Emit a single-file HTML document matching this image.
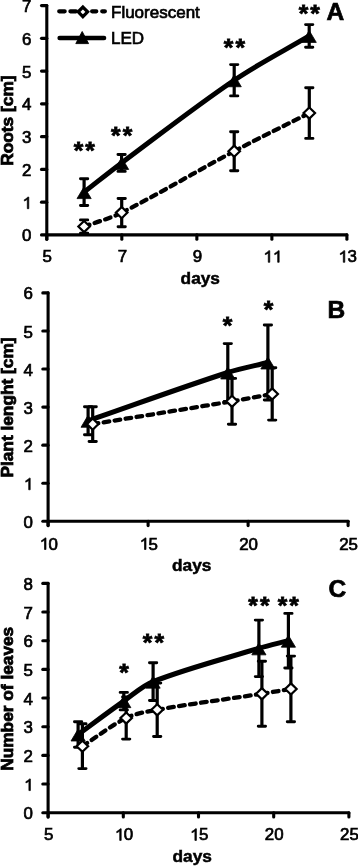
<!DOCTYPE html>
<html><head><meta charset="utf-8"><style>
html,body{margin:0;padding:0;background:#fff;}
body{width:358px;height:866px;overflow:hidden;font-family:"Liberation Sans",sans-serif;}
svg{display:block;will-change:transform;}
text{font-family:"Liberation Sans",sans-serif;fill:#000;}
</style></head><body>
<svg width="358" height="866" viewBox="0 0 358 866" font-family="Liberation Sans, sans-serif">
<path d="M46.80,5.60 V239.20" stroke="#000" stroke-width="3.10" fill="none" stroke-linecap="round"/>
<path d="M41.50,234.90 H46.80" stroke="#000" stroke-width="3.10" stroke-linecap="round"/>
<text x="22.00" y="241.45" font-size="16.90" font-weight="normal" text-anchor="start" stroke="#000" stroke-width="0.70">0</text>
<path d="M41.50,202.14 H46.80" stroke="#000" stroke-width="3.10" stroke-linecap="round"/>
<path d="M823,0 L643,0 L643,1140 C560,1065 430,985 283,925 L283,1090 C380,1135 490,1205 580,1290 C640,1345 685,1390 710,1409 L823,1409 Z" transform="translate(22.001,208.693) scale(0.00825,-0.00825)" fill="#000" stroke="#000" stroke-width="84.828"/>
<path d="M41.50,169.39 H46.80" stroke="#000" stroke-width="3.10" stroke-linecap="round"/>
<text x="22.00" y="175.94" font-size="16.90" font-weight="normal" text-anchor="start" stroke="#000" stroke-width="0.70">2</text>
<path d="M41.50,136.63 H46.80" stroke="#000" stroke-width="3.10" stroke-linecap="round"/>
<text x="22.00" y="143.18" font-size="16.90" font-weight="normal" text-anchor="start" stroke="#000" stroke-width="0.70">3</text>
<path d="M41.50,103.87 H46.80" stroke="#000" stroke-width="3.10" stroke-linecap="round"/>
<text x="22.00" y="110.42" font-size="16.90" font-weight="normal" text-anchor="start" stroke="#000" stroke-width="0.70">4</text>
<path d="M41.50,71.11 H46.80" stroke="#000" stroke-width="3.10" stroke-linecap="round"/>
<text x="22.00" y="77.66" font-size="16.90" font-weight="normal" text-anchor="start" stroke="#000" stroke-width="0.70">5</text>
<path d="M41.50,38.36 H46.80" stroke="#000" stroke-width="3.10" stroke-linecap="round"/>
<text x="22.00" y="44.91" font-size="16.90" font-weight="normal" text-anchor="start" stroke="#000" stroke-width="0.70">6</text>
<path d="M41.50,5.60 H46.80" stroke="#000" stroke-width="3.10" stroke-linecap="round"/>
<text x="22.00" y="12.15" font-size="16.90" font-weight="normal" text-anchor="start" stroke="#000" stroke-width="0.70">7</text>
<path d="M46.80,234.90 H346.90" stroke="#000" stroke-width="3.10" fill="none" stroke-linecap="round"/>
<path d="M46.80,234.90 V239.20" stroke="#000" stroke-width="3.10" stroke-linecap="round"/>
<text x="42.60" y="262.30" font-size="16.90" font-weight="normal" text-anchor="start" stroke="#000" stroke-width="0.70">5</text>
<path d="M121.82,234.90 V239.20" stroke="#000" stroke-width="3.10" stroke-linecap="round"/>
<text x="117.63" y="262.30" font-size="16.90" font-weight="normal" text-anchor="start" stroke="#000" stroke-width="0.70">7</text>
<path d="M196.85,234.90 V239.20" stroke="#000" stroke-width="3.10" stroke-linecap="round"/>
<text x="192.65" y="262.30" font-size="16.90" font-weight="normal" text-anchor="start" stroke="#000" stroke-width="0.70">9</text>
<path d="M271.88,234.90 V239.20" stroke="#000" stroke-width="3.10" stroke-linecap="round"/>
<path d="M823,0 L643,0 L643,1140 C560,1065 430,985 283,925 L283,1090 C380,1135 490,1205 580,1290 C640,1345 685,1390 710,1409 L823,1409 Z" transform="translate(262.976,262.300) scale(0.00825,-0.00825)" fill="#000" stroke="#000" stroke-width="84.828"/><path d="M823,0 L643,0 L643,1140 C560,1065 430,985 283,925 L283,1090 C380,1135 490,1205 580,1290 C640,1345 685,1390 710,1409 L823,1409 Z" transform="translate(272.375,262.300) scale(0.00825,-0.00825)" fill="#000" stroke="#000" stroke-width="84.828"/>
<path d="M346.90,234.90 V239.20" stroke="#000" stroke-width="3.10" stroke-linecap="round"/>
<path d="M823,0 L643,0 L643,1140 C560,1065 430,985 283,925 L283,1090 C380,1135 490,1205 580,1290 C640,1345 685,1390 710,1409 L823,1409 Z" transform="translate(338.001,262.300) scale(0.00825,-0.00825)" fill="#000" stroke="#000" stroke-width="84.828"/><text x="347.40" y="262.30" font-size="16.90" font-weight="normal" text-anchor="start" stroke="#000" stroke-width="0.70">3</text>
<text x="180.60" y="284.30" font-size="17.30" font-weight="bold" text-anchor="start" stroke="#000" stroke-width="0.50">days</text>
<text x="0" y="0" font-size="17.30" font-weight="bold" text-anchor="middle" stroke="#000" stroke-width="0.80" transform="translate(13.00,120.60) rotate(-90)">Roots [cm]</text>
<text x="326.60" y="19.50" font-size="24.50" font-weight="bold" text-anchor="start" stroke="#000" stroke-width="0.70">A</text>
<path d="M84.10,192.10 C96.60,182.38 108.91,172.41 121.60,162.95 C158.94,135.13 195.69,106.33 234.20,80.25 C258.22,63.98 284.20,50.68 309.20,35.90" stroke="#000" stroke-width="5.00" fill="none" stroke-linejoin="round" stroke-linecap="round"/>
<path d="M84.10,178.70 V205.50" stroke="#000" stroke-width="3.20" fill="none"/><path d="M80.45,178.70 H87.75 M80.45,205.50 H87.75" stroke="#000" stroke-width="2.90" fill="none" stroke-linecap="round"/>
<path d="M121.60,154.50 V171.40" stroke="#000" stroke-width="3.20" fill="none"/><path d="M117.95,154.50 H125.25 M117.95,171.40 H125.25" stroke="#000" stroke-width="2.90" fill="none" stroke-linecap="round"/>
<path d="M234.20,64.60 V95.90" stroke="#000" stroke-width="3.20" fill="none"/><path d="M230.55,64.60 H237.85 M230.55,95.90 H237.85" stroke="#000" stroke-width="2.90" fill="none" stroke-linecap="round"/>
<path d="M309.20,24.60 V47.20" stroke="#000" stroke-width="3.20" fill="none"/><path d="M305.55,24.60 H312.85 M305.55,47.20 H312.85" stroke="#000" stroke-width="2.90" fill="none" stroke-linecap="round"/>
<path d="M84.10,186.70 L91.20,198.60 L77.00,198.60 Z" fill="#000" stroke="#000" stroke-width="0.8" stroke-linejoin="round"/>
<path d="M121.60,157.55 L128.70,169.45 L114.50,169.45 Z" fill="#000" stroke="#000" stroke-width="0.8" stroke-linejoin="round"/>
<path d="M234.20,74.85 L241.30,86.75 L227.10,86.75 Z" fill="#000" stroke="#000" stroke-width="0.8" stroke-linejoin="round"/>
<path d="M309.20,30.50 L316.30,42.40 L302.10,42.40 Z" fill="#000" stroke="#000" stroke-width="0.8" stroke-linejoin="round"/>
<path d="M84.10,226.55 C96.63,221.91 109.78,218.61 121.70,212.62" stroke="#000" stroke-width="4.30" fill="none" stroke-dasharray="5.7 5.4" stroke-dashoffset="0.00" stroke-linecap="round"/>
<path d="M121.70,212.62 C159.81,193.49 196.47,171.23 234.20,151.20" stroke="#000" stroke-width="4.30" fill="none" stroke-dasharray="5.7 5.4" stroke-dashoffset="0.00" stroke-linecap="round"/>
<path d="M234.20,151.20 C259.00,138.04 284.27,125.77 309.30,113.05" stroke="#000" stroke-width="4.30" fill="none" stroke-dasharray="5.7 5.4" stroke-dashoffset="0.00" stroke-linecap="round"/>
<path d="M84.10,219.90 V233.20" stroke="#000" stroke-width="3.20" fill="none"/><path d="M80.45,219.90 H87.75 M80.45,233.20 H87.75" stroke="#000" stroke-width="2.90" fill="none" stroke-linecap="round"/>
<path d="M121.70,198.55 V226.70" stroke="#000" stroke-width="3.20" fill="none"/><path d="M118.05,198.55 H125.35 M118.05,226.70 H125.35" stroke="#000" stroke-width="2.90" fill="none" stroke-linecap="round"/>
<path d="M234.20,131.70 V170.70" stroke="#000" stroke-width="3.20" fill="none"/><path d="M230.55,131.70 H237.85 M230.55,170.70 H237.85" stroke="#000" stroke-width="2.90" fill="none" stroke-linecap="round"/>
<path d="M309.30,87.70 V138.40" stroke="#000" stroke-width="3.20" fill="none"/><path d="M305.65,87.70 H312.95 M305.65,138.40 H312.95" stroke="#000" stroke-width="2.90" fill="none" stroke-linecap="round"/>
<path d="M84.10,220.95 L89.85,226.55 L84.10,232.15 L78.35,226.55 Z" fill="#fff" stroke="#000" stroke-width="2.20" stroke-linejoin="miter" stroke-miterlimit="10"/>
<path d="M121.70,207.03 L127.45,212.62 L121.70,218.22 L115.95,212.62 Z" fill="#fff" stroke="#000" stroke-width="2.20" stroke-linejoin="miter" stroke-miterlimit="10"/>
<path d="M234.20,145.60 L239.95,151.20 L234.20,156.80 L228.45,151.20 Z" fill="#fff" stroke="#000" stroke-width="2.20" stroke-linejoin="miter" stroke-miterlimit="10"/>
<path d="M309.30,107.45 L315.05,113.05 L309.30,118.65 L303.55,113.05 Z" fill="#fff" stroke="#000" stroke-width="2.20" stroke-linejoin="miter" stroke-miterlimit="10"/>
<text x="73.76" y="158.95" font-size="24.50" font-weight="bold" text-anchor="start" stroke="#000" stroke-width="0.80">*</text>
<text x="85.36" y="158.95" font-size="24.50" font-weight="bold" text-anchor="start" stroke="#000" stroke-width="0.80">*</text>
<text x="111.06" y="143.50" font-size="24.50" font-weight="bold" text-anchor="start" stroke="#000" stroke-width="0.80">*</text>
<text x="122.66" y="143.50" font-size="24.50" font-weight="bold" text-anchor="start" stroke="#000" stroke-width="0.80">*</text>
<text x="223.81" y="55.50" font-size="24.50" font-weight="bold" text-anchor="start" stroke="#000" stroke-width="0.80">*</text>
<text x="235.41" y="55.50" font-size="24.50" font-weight="bold" text-anchor="start" stroke="#000" stroke-width="0.80">*</text>
<text x="298.66" y="21.75" font-size="24.50" font-weight="bold" text-anchor="start" stroke="#000" stroke-width="0.80">*</text>
<text x="310.26" y="21.75" font-size="24.50" font-weight="bold" text-anchor="start" stroke="#000" stroke-width="0.80">*</text>
<path d="M48.10,292.90 V525.60" stroke="#000" stroke-width="3.10" fill="none" stroke-linecap="round"/>
<path d="M42.80,521.30 H48.10" stroke="#000" stroke-width="3.10" stroke-linecap="round"/>
<text x="23.40" y="527.85" font-size="16.90" font-weight="normal" text-anchor="start" stroke="#000" stroke-width="0.70">0</text>
<path d="M42.80,483.23 H48.10" stroke="#000" stroke-width="3.10" stroke-linecap="round"/>
<path d="M823,0 L643,0 L643,1140 C560,1065 430,985 283,925 L283,1090 C380,1135 490,1205 580,1290 C640,1345 685,1390 710,1409 L823,1409 Z" transform="translate(23.401,489.783) scale(0.00825,-0.00825)" fill="#000" stroke="#000" stroke-width="84.828"/>
<path d="M42.80,445.17 H48.10" stroke="#000" stroke-width="3.10" stroke-linecap="round"/>
<text x="23.40" y="451.72" font-size="16.90" font-weight="normal" text-anchor="start" stroke="#000" stroke-width="0.70">2</text>
<path d="M42.80,407.10 H48.10" stroke="#000" stroke-width="3.10" stroke-linecap="round"/>
<text x="23.40" y="413.65" font-size="16.90" font-weight="normal" text-anchor="start" stroke="#000" stroke-width="0.70">3</text>
<path d="M42.80,369.03 H48.10" stroke="#000" stroke-width="3.10" stroke-linecap="round"/>
<text x="23.40" y="375.58" font-size="16.90" font-weight="normal" text-anchor="start" stroke="#000" stroke-width="0.70">4</text>
<path d="M42.80,330.97 H48.10" stroke="#000" stroke-width="3.10" stroke-linecap="round"/>
<text x="23.40" y="337.52" font-size="16.90" font-weight="normal" text-anchor="start" stroke="#000" stroke-width="0.70">5</text>
<path d="M42.80,292.90 H48.10" stroke="#000" stroke-width="3.10" stroke-linecap="round"/>
<text x="23.40" y="299.45" font-size="16.90" font-weight="normal" text-anchor="start" stroke="#000" stroke-width="0.70">6</text>
<path d="M48.10,521.30 H348.10" stroke="#000" stroke-width="3.10" fill="none" stroke-linecap="round"/>
<path d="M48.10,521.30 V525.60" stroke="#000" stroke-width="3.10" stroke-linecap="round"/>
<path d="M823,0 L643,0 L643,1140 C560,1065 430,985 283,925 L283,1090 C380,1135 490,1205 580,1290 C640,1345 685,1390 710,1409 L823,1409 Z" transform="translate(39.201,549.500) scale(0.00825,-0.00825)" fill="#000" stroke="#000" stroke-width="84.828"/><text x="48.60" y="549.50" font-size="16.90" font-weight="normal" text-anchor="start" stroke="#000" stroke-width="0.70">0</text>
<path d="M148.10,521.30 V525.60" stroke="#000" stroke-width="3.10" stroke-linecap="round"/>
<path d="M823,0 L643,0 L643,1140 C560,1065 430,985 283,925 L283,1090 C380,1135 490,1205 580,1290 C640,1345 685,1390 710,1409 L823,1409 Z" transform="translate(139.201,549.500) scale(0.00825,-0.00825)" fill="#000" stroke="#000" stroke-width="84.828"/><text x="148.60" y="549.50" font-size="16.90" font-weight="normal" text-anchor="start" stroke="#000" stroke-width="0.70">5</text>
<path d="M248.10,521.30 V525.60" stroke="#000" stroke-width="3.10" stroke-linecap="round"/>
<text x="239.20" y="549.50" font-size="16.90" font-weight="normal" text-anchor="start" stroke="#000" stroke-width="0.70">2</text><text x="248.60" y="549.50" font-size="16.90" font-weight="normal" text-anchor="start" stroke="#000" stroke-width="0.70">0</text>
<path d="M348.10,521.30 V525.60" stroke="#000" stroke-width="3.10" stroke-linecap="round"/>
<text x="339.20" y="549.50" font-size="16.90" font-weight="normal" text-anchor="start" stroke="#000" stroke-width="0.70">2</text><text x="348.60" y="549.50" font-size="16.90" font-weight="normal" text-anchor="start" stroke="#000" stroke-width="0.70">5</text>
<text x="172.00" y="571.40" font-size="17.30" font-weight="bold" text-anchor="start" stroke="#000" stroke-width="0.50">days</text>
<text x="0" y="0" font-size="17.30" font-weight="bold" text-anchor="middle" stroke="#000" stroke-width="0.80" transform="translate(13.00,407.50) rotate(-90)">Plant lenght [cm]</text>
<text x="327.50" y="317.60" font-size="24.50" font-weight="bold" text-anchor="start" stroke="#000" stroke-width="0.70">B</text>
<path d="M88.10,420.75 C134.67,404.67 180.96,387.67 227.80,372.50 C240.90,368.26 254.53,365.83 267.90,362.50" stroke="#000" stroke-width="5.00" fill="none" stroke-linejoin="round" stroke-linecap="round"/>
<path d="M88.10,406.70 V434.80" stroke="#000" stroke-width="3.20" fill="none"/><path d="M84.45,406.70 H91.75 M84.45,434.80 H91.75" stroke="#000" stroke-width="2.90" fill="none" stroke-linecap="round"/>
<path d="M227.80,343.60 V401.40" stroke="#000" stroke-width="3.20" fill="none"/><path d="M224.15,343.60 H231.45 M224.15,401.40 H231.45" stroke="#000" stroke-width="2.90" fill="none" stroke-linecap="round"/>
<path d="M267.90,325.00 V400.00" stroke="#000" stroke-width="3.20" fill="none"/><path d="M264.25,325.00 H271.55 M264.25,400.00 H271.55" stroke="#000" stroke-width="2.90" fill="none" stroke-linecap="round"/>
<path d="M88.10,415.35 L95.20,427.25 L81.00,427.25 Z" fill="#000" stroke="#000" stroke-width="0.8" stroke-linejoin="round"/>
<path d="M227.80,367.10 L234.90,379.00 L220.70,379.00 Z" fill="#000" stroke="#000" stroke-width="0.8" stroke-linejoin="round"/>
<path d="M267.90,357.10 L275.00,369.00 L260.80,369.00 Z" fill="#000" stroke="#000" stroke-width="0.8" stroke-linejoin="round"/>
<path d="M92.70,424.10 C139.13,416.50 185.60,409.09 232.00,401.30" stroke="#000" stroke-width="4.30" fill="none" stroke-dasharray="5.7 5.4" stroke-dashoffset="0.00" stroke-linecap="round"/>
<path d="M232.00,401.30 C245.43,399.04 258.80,396.40 272.20,393.95" stroke="#000" stroke-width="4.30" fill="none" stroke-dasharray="5.7 5.4" stroke-dashoffset="0.00" stroke-linecap="round"/>
<path d="M92.70,406.70 V441.50" stroke="#000" stroke-width="3.20" fill="none"/><path d="M89.05,406.70 H96.35 M89.05,441.50 H96.35" stroke="#000" stroke-width="2.90" fill="none" stroke-linecap="round"/>
<path d="M232.00,378.40 V424.20" stroke="#000" stroke-width="3.20" fill="none"/><path d="M228.35,378.40 H235.65 M228.35,424.20 H235.65" stroke="#000" stroke-width="2.90" fill="none" stroke-linecap="round"/>
<path d="M272.20,367.80 V420.10" stroke="#000" stroke-width="3.20" fill="none"/><path d="M268.55,367.80 H275.85 M268.55,420.10 H275.85" stroke="#000" stroke-width="2.90" fill="none" stroke-linecap="round"/>
<path d="M92.70,418.50 L98.45,424.10 L92.70,429.70 L86.95,424.10 Z" fill="#fff" stroke="#000" stroke-width="2.20" stroke-linejoin="miter" stroke-miterlimit="10"/>
<path d="M232.00,395.70 L237.75,401.30 L232.00,406.90 L226.25,401.30 Z" fill="#fff" stroke="#000" stroke-width="2.20" stroke-linejoin="miter" stroke-miterlimit="10"/>
<path d="M272.20,388.35 L277.95,393.95 L272.20,399.55 L266.45,393.95 Z" fill="#fff" stroke="#000" stroke-width="2.20" stroke-linejoin="miter" stroke-miterlimit="10"/>
<text x="222.86" y="333.60" font-size="24.50" font-weight="bold" text-anchor="start" stroke="#000" stroke-width="0.80">*</text>
<text x="263.66" y="318.30" font-size="24.50" font-weight="bold" text-anchor="start" stroke="#000" stroke-width="0.80">*</text>
<path d="M48.10,583.40 V817.00" stroke="#000" stroke-width="3.10" fill="none" stroke-linecap="round"/>
<path d="M42.80,812.70 H48.10" stroke="#000" stroke-width="3.10" stroke-linecap="round"/>
<text x="23.60" y="819.25" font-size="16.90" font-weight="normal" text-anchor="start" stroke="#000" stroke-width="0.70">0</text>
<path d="M42.80,784.04 H48.10" stroke="#000" stroke-width="3.10" stroke-linecap="round"/>
<path d="M823,0 L643,0 L643,1140 C560,1065 430,985 283,925 L283,1090 C380,1135 490,1205 580,1290 C640,1345 685,1390 710,1409 L823,1409 Z" transform="translate(23.601,790.587) scale(0.00825,-0.00825)" fill="#000" stroke="#000" stroke-width="84.828"/>
<path d="M42.80,755.38 H48.10" stroke="#000" stroke-width="3.10" stroke-linecap="round"/>
<text x="23.60" y="761.92" font-size="16.90" font-weight="normal" text-anchor="start" stroke="#000" stroke-width="0.70">2</text>
<path d="M42.80,726.71 H48.10" stroke="#000" stroke-width="3.10" stroke-linecap="round"/>
<text x="23.60" y="733.26" font-size="16.90" font-weight="normal" text-anchor="start" stroke="#000" stroke-width="0.70">3</text>
<path d="M42.80,698.05 H48.10" stroke="#000" stroke-width="3.10" stroke-linecap="round"/>
<text x="23.60" y="704.60" font-size="16.90" font-weight="normal" text-anchor="start" stroke="#000" stroke-width="0.70">4</text>
<path d="M42.80,669.39 H48.10" stroke="#000" stroke-width="3.10" stroke-linecap="round"/>
<text x="23.60" y="675.94" font-size="16.90" font-weight="normal" text-anchor="start" stroke="#000" stroke-width="0.70">5</text>
<path d="M42.80,640.73 H48.10" stroke="#000" stroke-width="3.10" stroke-linecap="round"/>
<text x="23.60" y="647.27" font-size="16.90" font-weight="normal" text-anchor="start" stroke="#000" stroke-width="0.70">6</text>
<path d="M42.80,612.06 H48.10" stroke="#000" stroke-width="3.10" stroke-linecap="round"/>
<text x="23.60" y="618.61" font-size="16.90" font-weight="normal" text-anchor="start" stroke="#000" stroke-width="0.70">7</text>
<path d="M42.80,583.40 H48.10" stroke="#000" stroke-width="3.10" stroke-linecap="round"/>
<text x="23.60" y="589.95" font-size="16.90" font-weight="normal" text-anchor="start" stroke="#000" stroke-width="0.70">8</text>
<path d="M48.10,812.70 H348.90" stroke="#000" stroke-width="3.10" fill="none" stroke-linecap="round"/>
<path d="M48.10,812.70 V817.00" stroke="#000" stroke-width="3.10" stroke-linecap="round"/>
<text x="43.90" y="840.40" font-size="16.90" font-weight="normal" text-anchor="start" stroke="#000" stroke-width="0.70">5</text>
<path d="M123.30,812.70 V817.00" stroke="#000" stroke-width="3.10" stroke-linecap="round"/>
<path d="M823,0 L643,0 L643,1140 C560,1065 430,985 283,925 L283,1090 C380,1135 490,1205 580,1290 C640,1345 685,1390 710,1409 L823,1409 Z" transform="translate(114.401,840.400) scale(0.00825,-0.00825)" fill="#000" stroke="#000" stroke-width="84.828"/><text x="123.80" y="840.40" font-size="16.90" font-weight="normal" text-anchor="start" stroke="#000" stroke-width="0.70">0</text>
<path d="M198.50,812.70 V817.00" stroke="#000" stroke-width="3.10" stroke-linecap="round"/>
<path d="M823,0 L643,0 L643,1140 C560,1065 430,985 283,925 L283,1090 C380,1135 490,1205 580,1290 C640,1345 685,1390 710,1409 L823,1409 Z" transform="translate(189.601,840.400) scale(0.00825,-0.00825)" fill="#000" stroke="#000" stroke-width="84.828"/><text x="199.00" y="840.40" font-size="16.90" font-weight="normal" text-anchor="start" stroke="#000" stroke-width="0.70">5</text>
<path d="M273.70,812.70 V817.00" stroke="#000" stroke-width="3.10" stroke-linecap="round"/>
<text x="264.80" y="840.40" font-size="16.90" font-weight="normal" text-anchor="start" stroke="#000" stroke-width="0.70">2</text><text x="274.20" y="840.40" font-size="16.90" font-weight="normal" text-anchor="start" stroke="#000" stroke-width="0.70">0</text>
<path d="M348.90,812.70 V817.00" stroke="#000" stroke-width="3.10" stroke-linecap="round"/>
<text x="340.00" y="840.40" font-size="16.90" font-weight="normal" text-anchor="start" stroke="#000" stroke-width="0.70">2</text><text x="349.40" y="840.40" font-size="16.90" font-weight="normal" text-anchor="start" stroke="#000" stroke-width="0.70">5</text>
<text x="172.50" y="862.00" font-size="17.30" font-weight="bold" text-anchor="start" stroke="#000" stroke-width="0.50">days</text>
<text x="0" y="0" font-size="17.30" font-weight="bold" text-anchor="middle" stroke="#000" stroke-width="0.80" transform="translate(13.00,698.80) rotate(-90)">Number of leaves</text>
<text x="328.60" y="597.20" font-size="24.50" font-weight="bold" text-anchor="start" stroke="#000" stroke-width="0.70">C</text>
<path d="M78.10,734.50 C93.33,723.38 108.39,712.01 123.80,701.15 C133.39,694.39 142.25,685.89 153.10,681.65 C187.29,668.29 223.52,659.06 258.90,648.35 C268.62,645.41 278.57,643.25 288.40,640.70" stroke="#000" stroke-width="5.00" fill="none" stroke-linejoin="round" stroke-linecap="round"/>
<path d="M78.10,721.70 V747.30" stroke="#000" stroke-width="3.20" fill="none"/><path d="M74.45,721.70 H81.75 M74.45,747.30 H81.75" stroke="#000" stroke-width="2.90" fill="none" stroke-linecap="round"/>
<path d="M123.80,692.40 V709.90" stroke="#000" stroke-width="3.20" fill="none"/><path d="M120.15,692.40 H127.45 M120.15,709.90 H127.45" stroke="#000" stroke-width="2.90" fill="none" stroke-linecap="round"/>
<path d="M153.10,662.80 V700.50" stroke="#000" stroke-width="3.20" fill="none"/><path d="M149.45,662.80 H156.75 M149.45,700.50 H156.75" stroke="#000" stroke-width="2.90" fill="none" stroke-linecap="round"/>
<path d="M258.90,620.10 V676.60" stroke="#000" stroke-width="3.20" fill="none"/><path d="M255.25,620.10 H262.55 M255.25,676.60 H262.55" stroke="#000" stroke-width="2.90" fill="none" stroke-linecap="round"/>
<path d="M288.40,613.40 V668.00" stroke="#000" stroke-width="3.20" fill="none"/><path d="M284.75,613.40 H292.05 M284.75,668.00 H292.05" stroke="#000" stroke-width="2.90" fill="none" stroke-linecap="round"/>
<path d="M78.10,729.10 L85.20,741.00 L71.00,741.00 Z" fill="#000" stroke="#000" stroke-width="0.8" stroke-linejoin="round"/>
<path d="M123.80,695.75 L130.90,707.65 L116.70,707.65 Z" fill="#000" stroke="#000" stroke-width="0.8" stroke-linejoin="round"/>
<path d="M153.10,676.25 L160.20,688.15 L146.00,688.15 Z" fill="#000" stroke="#000" stroke-width="0.8" stroke-linejoin="round"/>
<path d="M258.90,642.95 L266.00,654.85 L251.80,654.85 Z" fill="#000" stroke="#000" stroke-width="0.8" stroke-linejoin="round"/>
<path d="M288.40,635.30 L295.50,647.20 L281.30,647.20 Z" fill="#000" stroke="#000" stroke-width="0.8" stroke-linejoin="round"/>
<path d="M82.40,746.20 C97.00,736.82 110.77,725.56 126.20,718.05" stroke="#000" stroke-width="4.30" fill="none" stroke-dasharray="5.7 5.4" stroke-dashoffset="0.00" stroke-linecap="round"/>
<path d="M126.20,718.05 C135.71,713.42 146.69,711.68 157.20,709.80" stroke="#000" stroke-width="4.30" fill="none" stroke-dasharray="5.7 5.4" stroke-dashoffset="0.00" stroke-linecap="round"/>
<path d="M157.20,709.80 C191.92,703.58 227.01,699.19 261.90,693.75" stroke="#000" stroke-width="4.30" fill="none" stroke-dasharray="5.7 5.4" stroke-dashoffset="0.00" stroke-linecap="round"/>
<path d="M261.90,693.75 C271.58,692.24 281.23,690.55 290.90,688.95" stroke="#000" stroke-width="4.30" fill="none" stroke-dasharray="5.7 5.4" stroke-dashoffset="0.00" stroke-linecap="round"/>
<path d="M82.40,723.80 V768.60" stroke="#000" stroke-width="3.20" fill="none"/><path d="M78.75,723.80 H86.05 M78.75,768.60 H86.05" stroke="#000" stroke-width="2.90" fill="none" stroke-linecap="round"/>
<path d="M126.20,697.00 V739.10" stroke="#000" stroke-width="3.20" fill="none"/><path d="M122.55,697.00 H129.85 M122.55,739.10 H129.85" stroke="#000" stroke-width="2.90" fill="none" stroke-linecap="round"/>
<path d="M157.20,683.10 V736.50" stroke="#000" stroke-width="3.20" fill="none"/><path d="M153.55,683.10 H160.85 M153.55,736.50 H160.85" stroke="#000" stroke-width="2.90" fill="none" stroke-linecap="round"/>
<path d="M261.90,661.30 V726.20" stroke="#000" stroke-width="3.20" fill="none"/><path d="M258.25,661.30 H265.55 M258.25,726.20 H265.55" stroke="#000" stroke-width="2.90" fill="none" stroke-linecap="round"/>
<path d="M290.90,656.10 V721.80" stroke="#000" stroke-width="3.20" fill="none"/><path d="M287.25,656.10 H294.55 M287.25,721.80 H294.55" stroke="#000" stroke-width="2.90" fill="none" stroke-linecap="round"/>
<path d="M82.40,740.60 L88.15,746.20 L82.40,751.80 L76.65,746.20 Z" fill="#fff" stroke="#000" stroke-width="2.20" stroke-linejoin="miter" stroke-miterlimit="10"/>
<path d="M126.20,712.45 L131.95,718.05 L126.20,723.65 L120.45,718.05 Z" fill="#fff" stroke="#000" stroke-width="2.20" stroke-linejoin="miter" stroke-miterlimit="10"/>
<path d="M157.20,704.20 L162.95,709.80 L157.20,715.40 L151.45,709.80 Z" fill="#fff" stroke="#000" stroke-width="2.20" stroke-linejoin="miter" stroke-miterlimit="10"/>
<path d="M261.90,688.15 L267.65,693.75 L261.90,699.35 L256.15,693.75 Z" fill="#fff" stroke="#000" stroke-width="2.20" stroke-linejoin="miter" stroke-miterlimit="10"/>
<path d="M290.90,683.35 L296.65,688.95 L290.90,694.55 L285.15,688.95 Z" fill="#fff" stroke="#000" stroke-width="2.20" stroke-linejoin="miter" stroke-miterlimit="10"/>
<text x="119.21" y="680.70" font-size="24.50" font-weight="bold" text-anchor="start" stroke="#000" stroke-width="0.80">*</text>
<text x="142.86" y="651.00" font-size="24.50" font-weight="bold" text-anchor="start" stroke="#000" stroke-width="0.80">*</text>
<text x="154.46" y="651.00" font-size="24.50" font-weight="bold" text-anchor="start" stroke="#000" stroke-width="0.80">*</text>
<text x="248.36" y="613.90" font-size="24.50" font-weight="bold" text-anchor="start" stroke="#000" stroke-width="0.80">*</text>
<text x="259.96" y="613.90" font-size="24.50" font-weight="bold" text-anchor="start" stroke="#000" stroke-width="0.80">*</text>
<text x="277.71" y="613.90" font-size="24.50" font-weight="bold" text-anchor="start" stroke="#000" stroke-width="0.80">*</text>
<text x="289.31" y="613.90" font-size="24.50" font-weight="bold" text-anchor="start" stroke="#000" stroke-width="0.80">*</text>
<path d="M59.2,11.3 H64.7 M70.4,11.3 H76 M92.1,11.3 H96.3 M102.2,11.3 H104.9" stroke="#000" stroke-width="4.2" stroke-linecap="round"/>
<path d="M82.90,7.15 L87.60,11.85 L82.90,16.55 L78.20,11.85 Z" fill="#fff" stroke="#000" stroke-width="3.30" stroke-linejoin="miter" stroke-miterlimit="10"/>
<path d="M59.6,38.0 H104.1" stroke="#000" stroke-width="4.4" stroke-linecap="round"/>
<path d="M82.2,31.5 L88.6,43.6 L75.8,43.6 Z" fill="#000" stroke="#000" stroke-width="0.9" stroke-linejoin="round"/>
<text x="111.00" y="18.10" font-size="17.00" font-weight="normal" text-anchor="start" stroke="#000" stroke-width="0.70">Fluorescent</text>
<text x="111.00" y="43.90" font-size="17.00" font-weight="normal" text-anchor="start" stroke="#000" stroke-width="0.70">LED</text>
</svg>
</body></html>
